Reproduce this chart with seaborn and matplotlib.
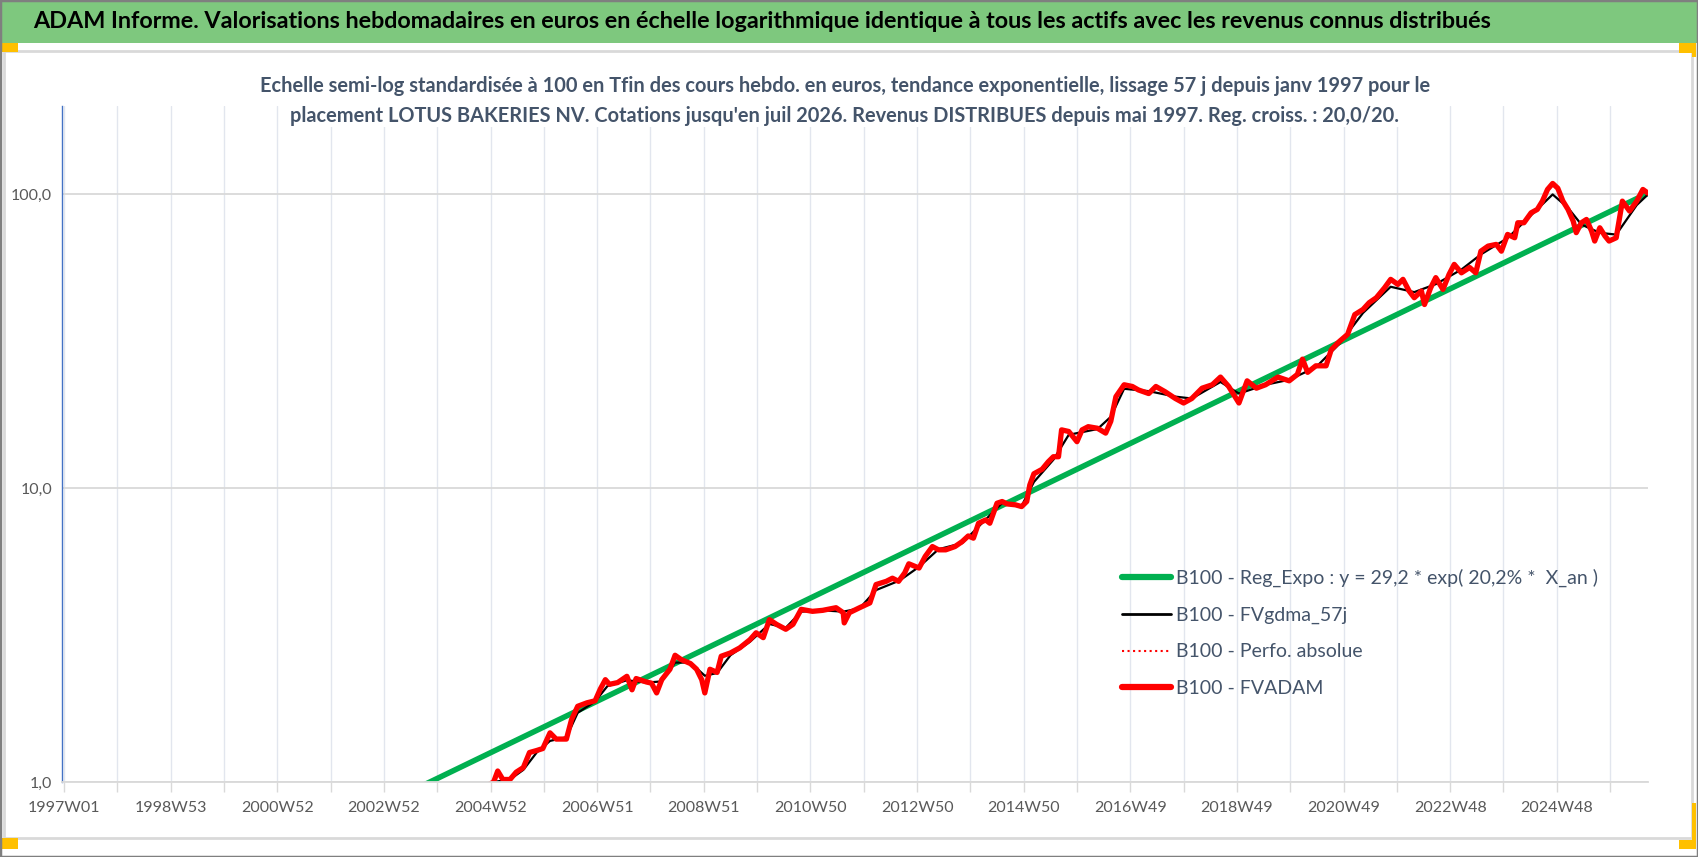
import matplotlib
matplotlib.use("Agg")
import matplotlib.pyplot as plt
from matplotlib.patches import Rectangle
from matplotlib.lines import Line2D
import seaborn as sns
import pandas as pd

# week index since 1997W01 -> values
tick_labels = ["1997W01", "1998W53", "2000W52", "2002W52", "2004W52", "2006W51",
               "2008W51", "2010W50", "2012W50", "2014W50", "2016W49", "2018W49",
               "2020W49", "2022W48", "2024W48"]
n_weeks = 1545

# exponential regression (straight on semi-log): two ends
reg_week = [0, 1545]
reg_value = [0.25, 101.0]

red_week = [412, 419, 423, 428, 435, 441, 448, 454, 461, 467, 474, 480, 490, 495, 501, 510,
            518, 523, 528, 532, 540, 549, 554, 558, 568, 573, 578, 583, 591, 596, 602, 611,
            617, 622, 625, 630, 637, 641, 650, 659, 669, 675, 682, 688, 695, 704, 711, 719,
            730, 740, 753, 760, 761, 766, 776, 786, 792, 802, 808, 814, 820, 824, 834, 840,
            847, 853, 860, 869, 876, 882, 887, 892, 899, 903, 910, 915, 920, 928, 934, 939,
            942, 946, 954, 960, 965, 970, 973, 980, 988, 993, 999, 1008, 1016, 1021, 1026,
            1034, 1042, 1048, 1058, 1065, 1074, 1084, 1092, 1100, 1110, 1120, 1128, 1136,
            1146, 1154, 1163, 1172, 1184, 1195, 1203, 1208, 1213, 1221, 1231, 1236, 1244,
            1252, 1259, 1267, 1273, 1280, 1288, 1294, 1301, 1306, 1312, 1317, 1324, 1327,
            1333, 1338, 1345, 1351, 1356, 1363, 1371, 1377, 1382, 1389, 1397, 1402, 1408,
            1415, 1418, 1424, 1431, 1437, 1442, 1447, 1452, 1457, 1462, 1467, 1472, 1475,
            1480, 1485, 1490, 1493, 1498, 1503, 1507, 1514, 1520, 1527, 1534, 1540, 1545]
red_value = [0.97, 1.0, 1.09, 1.02, 1.02, 1.08, 1.12, 1.26, 1.28, 1.30, 1.47, 1.40, 1.40, 1.63,
             1.81, 1.86, 1.89, 2.07, 2.23, 2.15, 2.18, 2.29, 2.06, 2.25, 2.19, 2.17, 2.01, 2.23,
             2.42, 2.70, 2.61, 2.53, 2.42, 2.23, 2.01, 2.42, 2.36, 2.68, 2.75, 2.86, 3.05, 3.22,
             3.10, 3.57, 3.44, 3.31, 3.44, 3.87, 3.81, 3.84, 3.92, 3.77, 3.48, 3.77, 3.92, 4.07,
             4.70, 4.82, 4.94, 4.82, 5.15, 5.53, 5.35, 5.86, 6.33, 6.17, 6.17, 6.33, 6.58, 6.88,
             6.76, 7.60, 7.80, 7.60, 8.89, 9.01, 8.84, 8.78, 8.66, 9.01, 10.26, 11.2, 11.6, 12.3,
             12.8, 12.8, 15.8, 15.6, 14.4, 15.8, 16.2, 16.0, 15.4, 16.9, 20.5, 22.5, 22.2, 21.6,
             21.0, 22.2, 21.3, 20.2, 19.5, 20.2, 21.9, 22.5, 23.9, 22.2, 19.5, 23.2, 21.9, 22.5,
             23.9, 23.2, 24.4, 27.5, 24.8, 26.1, 26.1, 29.6, 31.6, 33.4, 39.0, 40.6, 42.8, 44.5,
             48.1, 51.4, 49.4, 51.4, 46.9, 44.5, 46.9, 42.2, 48.1, 52.1, 47.5, 53.5, 57.8, 54.1,
             56.4, 54.1, 64.1, 66.7, 67.6, 64.1, 73.1, 71.2, 80.1, 80.1, 86.6, 88.9, 94.9, 104.0,
             109.0, 105.0, 94.9, 88.9, 81.2, 74.1, 80.1, 82.2, 75.0, 69.4, 77.0, 72.2, 69.4,
             71.2, 94.9, 87.8, 94.9, 104.0, 101.0]

# smoothed 57-day series (black)
black_week = [412, 419, 435, 448, 461, 474, 490, 501, 518, 530, 549, 568, 583, 596, 611, 625,
              637, 650, 669, 688, 704, 719, 740, 760, 776, 792, 815, 834, 853, 876, 892, 915,
              934, 946, 965, 980, 1008, 1021, 1034, 1058, 1084, 1100, 1128, 1146, 1172, 1195,
              1221, 1244, 1267, 1294, 1317, 1338, 1363, 1382, 1408, 1431, 1452, 1467, 1480,
              1498, 1514, 1534, 1545]
black_value = [0.97, 1.0, 1.02, 1.1, 1.26, 1.38, 1.42, 1.72, 1.88, 2.12, 2.22, 2.18, 2.2, 2.55,
               2.55, 2.3, 2.35, 2.7, 3.0, 3.45, 3.35, 3.8, 3.84, 3.8, 3.9, 4.5, 4.85, 5.4, 6.2,
               6.5, 7.4, 8.9, 8.7, 10.5, 12.5, 15.2, 15.9, 17.5, 21.8, 21.4, 20.5, 20.2, 23.0,
               21.0, 22.5, 23.4, 25.8, 31.0, 39.5, 48.5, 46.5, 49.5, 55.5, 62.5, 71.0, 85.0,
               100.0, 90.0, 79.0, 74.0, 73.0, 92.0, 100.0]

legend_labels = ["B100 - Reg_Expo : y = 29,2 * exp( 20,2% *  X_an )",
                 "B100 - FVgdma_57j",
                 "B100 - Perfo. absolue",
                 "B100 - FVADAM"]

title = ("ADAM Informe. Valorisations hebdomadaires en euros en échelle logarithmique "
         "identique à tous les actifs avec les revenus connus distribués")
subtitle1 = ("Echelle semi-log standardisée à 100 en Tfin des cours hebdo. en euros, tendance "
             "exponentielle, lissage 57 j depuis janv 1997 pour le")
subtitle2 = ("placement LOTUS BAKERIES NV. Cotations jusqu'en juil 2026. Revenus DISTRIBUES "
             "depuis mai 1997. Reg. croiss. : 20,0/20.")

reg_df = pd.DataFrame({"week": reg_week, "value": reg_value})
red_df = pd.DataFrame({"week": red_week, "value": red_value})
black_df = pd.DataFrame({"week": black_week, "value": black_value})

sns.set_theme(style="white")
plt.rcParams["font.family"] = ["Lato", "DejaVu Sans"]

W, H = 1698, 857
fig = plt.figure(figsize=(W / 100, H / 100), dpi=100)
fig.patch.set_facecolor("white")

# frame, header band, handles
fig.patches.append(Rectangle((0, 0), 1, 1, transform=fig.transFigure, fill=False,
                             edgecolor="#7f7f7f", linewidth=2.5, zorder=10))
fig.patches.append(Rectangle((0, 1 - 43 / H), 1, 43 / H, transform=fig.transFigure,
                             facecolor="#7ec87e", edgecolor="none", zorder=1))
fig.patches.append(Rectangle((4 / W, 1 - 838 / H), 1688 / W, (838 - 51) / H,
                             transform=fig.transFigure, fill=False,
                             edgecolor="#d9d9d9", linewidth=2, zorder=1))
for x0, y0, w, h in [(0, 43, 18, 9), (1679, 43, 17, 10), (1692, 43, 4, 14),
                     (0, 838, 18, 11), (1679, 840, 17, 9), (1692, 803, 4, 46)]:
    fig.patches.append(Rectangle((x0 / W, 1 - (y0 + h) / H), w / W, h / H,
                                 transform=fig.transFigure, facecolor="#ffc000",
                                 edgecolor="none", zorder=2))

fig.text(762 / W, 1 - 22 / H, title, ha="center", va="center", fontsize=16.8,
         fontweight="bold", color="black", zorder=5)

ax = fig.add_axes([62 / W, 1 - 782 / H, (1648 - 62) / W, (782 - 106) / H])
ax.set_yscale("log")

sns.lineplot(data=reg_df, x="week", y="value", ax=ax, color="#00b050", linewidth=4,
             estimator=None, label=legend_labels[0])
sns.lineplot(data=black_df, x="week", y="value", ax=ax, color="black", linewidth=1.6,
             estimator=None, label=legend_labels[1])
sns.lineplot(data=red_df, x="week", y="value", ax=ax, color="#ff0000", linewidth=1.5,
             linestyle=":", estimator=None, label=legend_labels[2])
sns.lineplot(data=red_df, x="week", y="value", ax=ax, color="#ff0000", linewidth=3.8,
             estimator=None, label=legend_labels[3])

ax.set_xlim(-2, n_weeks)
ax.set_ylim(1, 200)
ax.set_xlabel("")
ax.set_ylabel("")

ax.set_xticks(range(0, n_weeks, 104))
ax.set_xticklabels(tick_labels)
ax.set_xticks(range(52, n_weeks, 104), minor=True)
ax.set_yticks([1, 10, 100])
ax.set_yticklabels(["1,0", "10,0", "100,0"])
ax.yaxis.set_minor_locator(matplotlib.ticker.NullLocator())

ax.grid(True, axis="x", which="both", color="#e2e6ee", linewidth=1)
ax.grid(True, axis="y", which="major", color="#d9d9d9", linewidth=1.3)
ax.set_axisbelow(True)
ax.tick_params(axis="x", which="both", direction="out", length=7, width=1,
               color="#d9d9d9", bottom=True, pad=7, labelsize=11.5, labelcolor="#595959")
ax.tick_params(axis="y", which="major", length=0, pad=7, labelsize=11.5,
               labelcolor="#595959")
for s in ["top", "right"]:
    ax.spines[s].set_visible(False)
ax.spines["left"].set_color("#4472c4")
ax.spines["left"].set_linewidth(1)
ax.spines["bottom"].set_color("#d9d9d9")
ax.spines["bottom"].set_linewidth(1.3)

fig.text(845 / W, 1 - 86 / H, subtitle1, ha="center", va="center", fontsize=14.4,
         fontweight="bold", color="#44546a", zorder=5)
fig.text(845 / W, 1 - 116 / H, subtitle2, ha="center", va="center", fontsize=14.4,
         fontweight="bold", color="#44546a", zorder=5,
         bbox=dict(facecolor="white", edgecolor="none", pad=1))

handles = [Line2D([], [], color="#00b050", linewidth=4.5),
           Line2D([], [], color="black", linewidth=2),
           Line2D([], [], color="#ff0000", linewidth=1.5, linestyle=":"),
           Line2D([], [], color="#ff0000", linewidth=4.5)]
leg = ax.legend(handles, legend_labels, loc="upper left",
                bbox_to_anchor=(1122 / W, 1 - 569 / H), bbox_transform=fig.transFigure,
                frameon=False, fontsize=14, handlelength=2.5, handletextpad=0.3,
                labelspacing=1.0, borderpad=0, borderaxespad=0)
for t in leg.get_texts():
    t.set_color("#44546a")

fig.savefig("out.png", dpi=100, facecolor="white")
